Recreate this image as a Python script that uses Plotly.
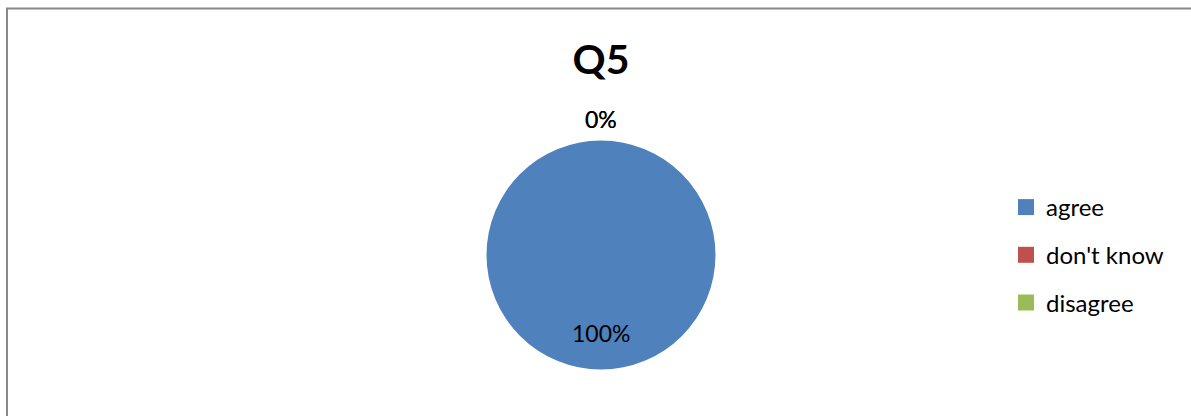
import math
import plotly.graph_objects as go

# ---- data ----
title = "Q5"
categories = ["agree", "don't know", "disagree"]
values = [100, 0, 0]
colors = ["#4F81BD", "#C0504D", "#9BBB59"]

W, H = 1191, 416
FONT = "Lato, 'Open Sans', sans-serif"

# pie geometry (pixels)
cx, cy, r = 601, 255, 114.5

fig = go.Figure()
fig.add_trace(go.Pie(
    labels=categories, values=values, sort=False, direction="clockwise",
    rotation=0, textinfo="none", hoverinfo="label+percent",
    marker=dict(colors=colors, line=dict(width=0)),
    domain=dict(x=[(cx - r) / W, (cx + r) / W],
                y=[(H - cy - r) / H, (H - cy + r) / H]),
    showlegend=False,
))

# legend entries (square swatches)
for i, (c, col) in enumerate(zip(categories, colors)):
    fig.add_trace(go.Scatter(
        x=[None], y=[None], mode="markers", name=c,
        marker=dict(symbol="square", size=16, color=col, line=dict(width=0)),
        legendgroup=f"g{i}", showlegend=True,
    ))

# data labels computed from values
total = sum(values)
cum = 0
annotations = []
for v in values:
    mid = (cum + v / 2) / total * 2 * math.pi
    cum += v
    pct = v / total * 100
    if v > 0:
        rl = 0.68 * r
    else:
        rl = r + 22
    lx = cx + rl * math.sin(mid)
    ly = cy - rl * math.cos(mid)
    annotations.append(dict(
        x=lx / W, y=(H - ly) / H, xref="paper", yref="paper",
        text=f"{pct:.0f}%", showarrow=False,
        font=dict(family=FONT, size=23, color="#000000"),
        xanchor="center", yanchor="middle",
    ))

fig.update_layout(
    width=W, height=H,
    margin=dict(l=0, r=0, t=0, b=0),
    paper_bgcolor="white", plot_bgcolor="white",
    title=dict(text=f"<b>{title}</b>", x=601 / W, xanchor="center",
               y=(H - 60) / H, yanchor="middle",
               font=dict(family=FONT, size=41, color="#000000")),
    xaxis=dict(visible=False), yaxis=dict(visible=False),
    legend=dict(x=1006 / W, xanchor="left", y=(H - 185) / H, yanchor="top",
                font=dict(family=FONT, size=24, color="#000000"),
                tracegroupgap=13.5, itemsizing="trace",
                bgcolor="rgba(0,0,0,0)"),
    annotations=annotations,
    shapes=[dict(type="rect", xref="paper", yref="paper",
                 x0=7 / W, x1=1.02, y0=-0.02, y1=(H - 8.5) / H,
                 line=dict(color="#888888", width=2), layer="above")],
)

fig.write_html("out.html", config={"displayModeBar": False},
               post_script="document.body.style.margin='0';document.body.style.padding='0';")
